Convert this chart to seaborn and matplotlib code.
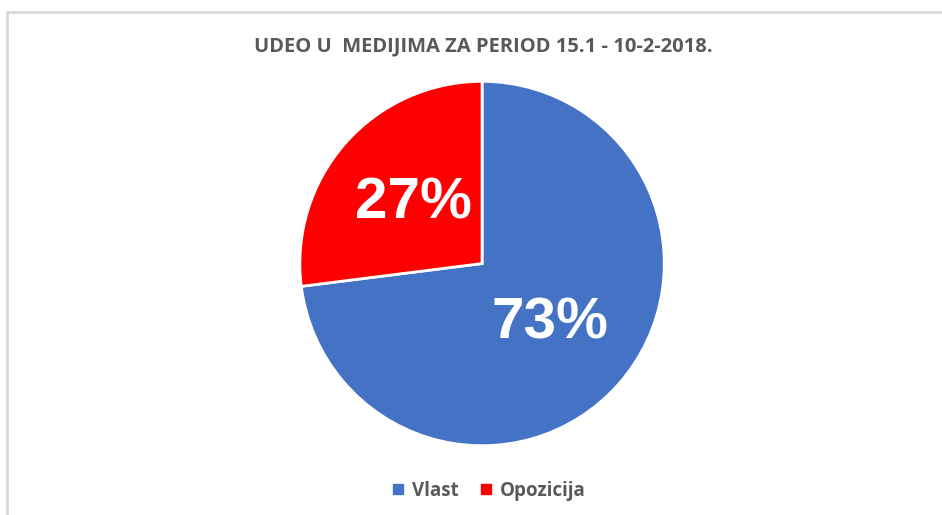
import matplotlib
matplotlib.use("Agg")
import matplotlib.pyplot as plt
from matplotlib.patches import Rectangle
from matplotlib.lines import Line2D
import seaborn as sns

# ---- data ----
labels = ["Vlast", "Opozicija"]
shares = [73, 27]
colors = ["#4472C4", "#FF0000"]
title = "UDEO U  MEDIJIMA ZA PERIOD 15.1 - 10-2-2018."

sns.set_theme(style="white")
plt.rcParams["font.family"] = ["Open Sans", "DejaVu Sans"]

fig = plt.figure(figsize=(9.42, 5.15), dpi=100)
fig.patch.set_facecolor("white")

# light gray chart frame (only top/left visible inside the image)
fig.patches.append(Rectangle((7 / 942, -0.05), 1.1, 1 - 12 / 515 + 0.05,
                             transform=fig.transFigure, fill=False,
                             edgecolor="#D9D9D9", linewidth=2, clip_on=False))

ax = fig.add_axes([0.5117 - 0.1953, 0.4883 - 0.3573, 0.3907, 0.7146])
wedges, texts, autotexts = ax.pie(
    shares, colors=colors, startangle=90, counterclock=False,
    autopct="%d%%", pctdistance=0.5,
    wedgeprops=dict(edgecolor="white", linewidth=2),
    textprops=dict(color="white", fontsize=42, fontweight="bold",
                   family=["Liberation Sans", "DejaVu Sans"]),
)
ax.set_xlim(-1.01, 1.01)
ax.set_ylim(-1.01, 1.01)
ax.set_aspect("equal")
ax.axis("off")

fig.text(0.5127, 1 - 46 / 515, title, ha="center", va="center",
         fontsize=14.5, fontweight="bold", color="#595959")

handles = [Line2D([0], [0], marker="s", linestyle="none", markersize=7,
                  markerfacecolor=c, markeredgecolor=c) for c in colors]
fig.legend(handles, labels, loc="center", bbox_to_anchor=(489 / 942, 1 - 491 / 515),
           ncol=2, frameon=False, handlelength=0.6, handletextpad=0.4,
           columnspacing=1.2, prop=dict(size=13.5, weight="bold"),
           labelcolor="#595959")

fig.savefig("out.png", dpi=100, facecolor="white")
